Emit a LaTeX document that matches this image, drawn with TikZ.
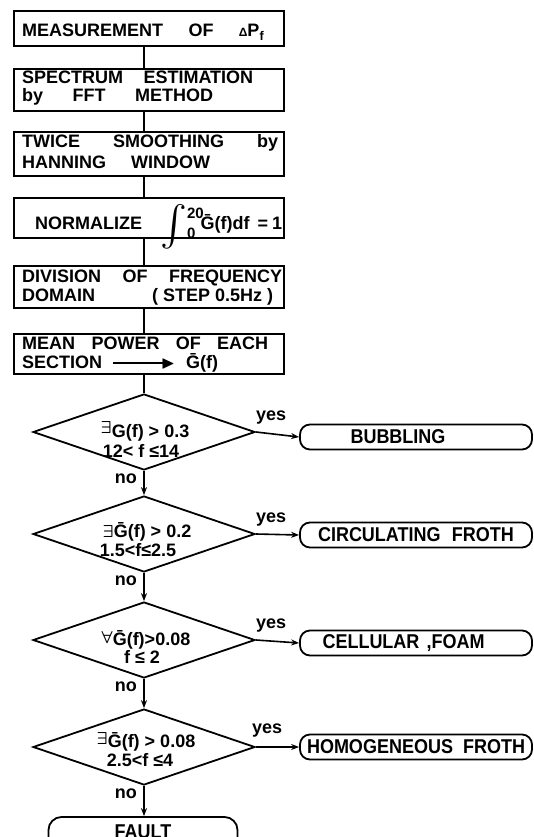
\documentclass[tikz,border=0pt]{standalone}
\usepackage{fontspec}
\usepackage{amsmath,amssymb,graphicx}
\setmainfont{Liberation Sans}
\newfontfamily\termfont{Liberation Sans}[FakeStretch=0.9]
\usetikzlibrary{shapes.geometric,arrows.meta}
\newcommand{\boxfont}{\bfseries\fontsize{18}{18}\selectfont}
\newcommand{\diafont}{\bfseries\fontsize{18}{18}\selectfont}
\newcommand{\limfont}{\bfseries\fontsize{15}{15}\selectfont}
\newcommand{\Gbar}{\=G}
\begin{document}
\begin{tikzpicture}[x=1pt,y=-1pt,
  stepbox/.style={draw, line width=1.8pt, minimum width=270pt, inner sep=0, anchor=north west},
  tx/.style={anchor=base west, inner sep=0, font=\boxfont},
  dia/.style={draw, diamond, line width=1.8pt, minimum width=222pt, minimum height=76pt, inner sep=0},
  dtx/.style={anchor=base, inner sep=0, font=\diafont},
  term/.style={draw, rounded corners=10pt, line width=1.8pt, minimum width=232pt, minimum height=25pt, inner sep=0, font=\termfont\bfseries\fontsize{20}{20}\selectfont},
  lbl/.style={inner sep=0, font=\bfseries\fontsize{18}{18}\selectfont},
  conn/.style={line width=1.6pt},
  arr/.style={conn, -{Stealth[length=8pt,width=6pt]}}
]
\useasboundingbox (0,0) rectangle (534,837);
\clip (0,0) rectangle (534,837);

% process boxes
\node[stepbox, minimum height=35pt] (b1) at (13,10) {};
\node[stepbox, minimum height=42pt] (b2) at (13,68) {};
\node[stepbox, minimum height=44pt] (b3) at (13,131) {};
\node[stepbox, minimum height=40pt] (b4) at (13,197) {};
\node[stepbox, minimum height=42pt] (b5) at (13,265) {};
\node[stepbox, minimum height=40pt] (b6) at (13,333) {};

\node[tx] (b1t) at (22,37) {\makebox[242pt][s]{MEASUREMENT\hfill OF\hfill {\fontsize{12}{12}\selectfont Δ}P\textsubscript{f}}};
\node[tx] (b2a) at (22,84) {\makebox[231pt][s]{SPECTRUM\hfill ESTIMATION}};
\node[tx] (b2b) at (22,102) {\makebox[191pt][s]{by\hfill FFT\hfill METHOD}};
\node[tx] (b3a) at (22,148) {\makebox[256pt][s]{TWICE\hfill SMOOTHING\hfill by}};
\node[tx] (b3b) at (22,168) {\makebox[188pt][s]{HANNING\hfill WINDOW}};
\node[tx] (b4t) at (35,229) {\makebox[247pt][s]{NORMALIZE\hfill\raisebox{-8pt}{\resizebox{!}{32pt}{$\int$}}\rlap{\raisebox{-9pt}{\limfont 0}}\raisebox{10pt}{\limfont 20}\hspace{-3pt}\Gbar(f)df\hspace{8pt}=\hspace{4pt}1}};
\node[tx] (b5a) at (22,282) {\makebox[260pt][s]{DIVISION\hfill OF\hfill FREQUENCY}};
\node[tx] (b5b) at (22,301) {\makebox[251pt][s]{DOMAIN\hfill ( STEP 0.5Hz )}};
\node[tx] (b6a) at (22,349) {\makebox[246pt][s]{MEAN\hfill POWER\hfill OF\hfill EACH}};
\node[tx] (b6b) at (22,368) {\makebox[196pt][s]{SECTION\hfill\rule[4.5pt]{50pt}{1.6pt}\hspace{-2pt}$\blacktriangleright$\hfill\Gbar(f)}};

% decisions
\node[dia] (d1) at (144,432) {};
\node[dia] (d2) at (144,534) {};
\node[dia] (d3) at (144,640) {};
\node[dia] (d4) at (144,747) {};

\node[dtx] (d1a) at (145,437) {\raisebox{4pt}{$\boldsymbol{\exists}$}G(f) {>} 0.3};
\node[dtx] (d1b) at (141,457) {12< f ≤14};
\node[dtx] (d2a) at (147,537) {$\boldsymbol{\exists}$\Gbar(f) {>} 0.2};
\node[dtx] (d2b) at (138,556) {1.5<f≤2.5};
\node[dtx] (d3a) at (146,645) {\raisebox{2pt}{$\boldsymbol{\forall}$}\Gbar(f)>0.08};
\node[dtx] (d3b) at (142,663) {f ≤ 2};
\node[dtx] (d4a) at (146,747) {\raisebox{3pt}{$\boldsymbol{\exists}$}\Gbar(f) {>} 0.08};
\node[dtx] (d4b) at (140,766) {2.5<f ≤4};

% terminals
\node[term] (t1) at (416,437) {\hspace*{-36pt}BUBBLING};
\node[term] (t2) at (416,535) {\makebox[196pt][s]{CIRCULATING\hfill FROTH}};
\node[term] (t3) at (416,643) {\hspace*{-25pt}\makebox[162pt][s]{CELLULAR\hfill ,FOAM}};
\node[term] (t4) at (416,747) {\makebox[218pt][s]{HOMOGENEOUS\hfill FROTH}};
\node[term, minimum width=189pt, minimum height=36pt, rounded corners=13pt] (t5) at (143,835) {\raisebox{6pt}{FAULT}};

% connectors between boxes
\draw[conn] (b1.south -| d1) -- (b2.north -| d1);
\draw[conn] (b2.south -| d1) -- (b3.north -| d1);
\draw[conn] (b3.south -| d1) -- (b4.north -| d1);
\draw[conn] (b4.south -| d1) -- (b5.north -| d1);
\draw[conn] (b5.south -| d1) -- (b6.north -| d1);
\draw[conn] (b6.south -| d1) -- (d1.north);

% no branches
\draw[arr] (d1.south) -- (d2.north);
\draw[arr] (d2.south) -- (d3.north);
\draw[arr] (d3.south) -- (d4.north);
\draw[arr] (d4.south) -- (t5.north -| d4);

% yes branches
\draw[arr] (d1.east) -- (t1.west);
\draw[arr] (d2.east) -- (t2.west);
\draw[arr] (d3.east) -- (t3.west);
\draw[arr] (d4.east) -- (t4.west);

% labels
\node[lbl, anchor=base west] (y1) at ([yshift=12pt]d1.east) {yes};
\node[lbl, anchor=base west] (y2) at ([yshift=12pt]d2.east) {yes};
\node[lbl, anchor=base west] (y3) at ([yshift=12pt]d3.east) {yes};
\node[lbl, anchor=base west] (y4) at ([xshift=-4pt,yshift=14pt]d4.east) {yes};
\node[lbl, anchor=base east] (n1) at ([xshift=-7pt,yshift=-13pt]d1.south) {no};
\node[lbl, anchor=base east] (n2) at ([xshift=-7pt,yshift=-13pt]d2.south) {no};
\node[lbl, anchor=base east] (n3) at ([xshift=-7pt,yshift=-13pt]d3.south) {no};
\node[lbl, anchor=base east] (n4) at ([xshift=-7pt,yshift=-13pt]d4.south) {no};
\end{tikzpicture}
\end{document}
